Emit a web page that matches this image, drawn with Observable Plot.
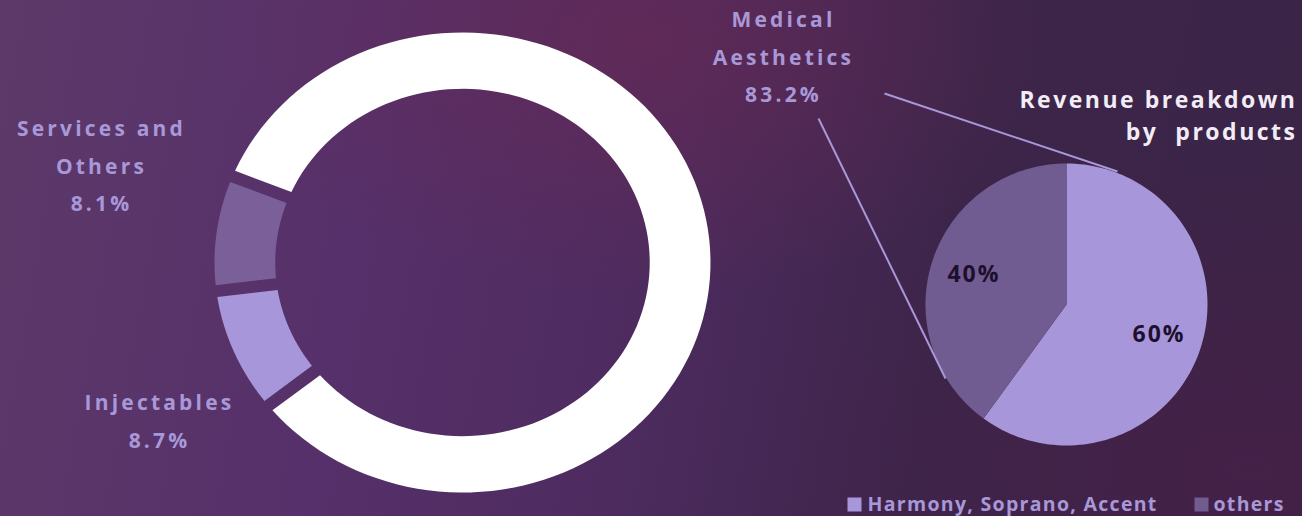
<!DOCTYPE html>
<html>
<head>
<meta charset="utf-8">
<script src="https://cdn.jsdelivr.net/npm/d3@7"></script>
<script src="https://cdn.jsdelivr.net/npm/@observablehq/plot@0.6"></script>
<style>
  html, body { margin: 0; padding: 0; }
  body {
    width: 1302px; height: 516px; overflow: hidden;
    background:
      radial-gradient(ellipse 420px 260px at 640px 40px, rgba(112, 40, 78, 0.5), rgba(112, 40, 78, 0) 100%),
      radial-gradient(ellipse 500px 300px at 1250px 470px, rgba(80, 28, 72, 0.45), rgba(80, 28, 72, 0) 100%),
      linear-gradient(100deg, #5d3969 0%, #56306a 28%, #4d2b5f 50%, #3c2549 72%, #3a2446 100%);
  }
  #chart svg { display: block; }
</style>
</head>
<body>
<div id="chart"></div>
<script>
// ---- data ----
const segments = ["Medical Aesthetics", "Injectables", "Services and Others"];
const shares = [83.2, 8.7, 8.1];
const segmentColors = ["#ffffff", "#a796d9", "#7a5f99"];
const segmentLabelLines = [["Medical", "Aesthetics", "83.2%"], ["Injectables", "8.7%"], ["Services and", "Others", "8.1%"]];
const products = ["Harmony, Soprano, Accent", "others"];
const productShares = [60, 40];
const productColors = ["#a797da", "#705c90"];
const titleLines = ["Revenue breakdown", "by  products"];

// ---- layout ----
const W = 1302, H = 516;
const donut = {cx: 462, cy: 262, rx: 248, ry: 230, inner: 0.755, start: -68 * Math.PI / 180, gap: 0.026};
const pieG = {cx: 1066, cy: 304, r: 141, labelR: 0.69};
const labelAnchors = [[783, 20], [159, 403], [101, 129]];
const lineStep = 37.5;
const lavender = "#a898d8";

// donut segment polygons
const donutPie = d3.pie().sort(null).startAngle(donut.start).endAngle(donut.start + 2 * Math.PI)(shares);
const donutRows = [];
donutPie.forEach((a, i) => {
  const pts = [];
  const n = 120;
  const ring = (r, rev) => {
    const off = Math.asin(donut.gap / r);
    const a0 = a.startAngle + off, a1 = a.endAngle - off;
    const arr = d3.range(n + 1).map(k => a0 + (a1 - a0) * k / n);
    if (rev) arr.reverse();
    arr.forEach(t => pts.push({x: donut.cx + r * donut.rx * Math.sin(t), y: donut.cy - r * donut.ry * Math.cos(t)}));
  };
  ring(1, false);
  ring(donut.inner, true);
  pts.forEach(p => donutRows.push({seg: segments[i], ...p}));
});

// pie slice polygons
const productPie = d3.pie().sort(null)(productShares);
const pieRows = [];
const pieLabelRows = [];
productPie.forEach((a, i) => {
  const n = 120;
  pieRows.push({seg: products[i], x: pieG.cx, y: pieG.cy});
  d3.range(n + 1).forEach(k => {
    const t = a.startAngle + (a.endAngle - a.startAngle) * k / n;
    pieRows.push({seg: products[i], x: pieG.cx + pieG.r * Math.sin(t), y: pieG.cy - pieG.r * Math.cos(t)});
  });
  const m = (a.startAngle + a.endAngle) / 2;
  pieLabelRows.push({text: productShares[i] + "%", x: pieG.cx + pieG.labelR * pieG.r * Math.sin(m), y: pieG.cy - pieG.labelR * pieG.r * Math.cos(m)});
});

// donut label rows
const labelRows = [];
segmentLabelLines.forEach((lines, i) => {
  lines.forEach((t, j) => labelRows.push({text: t, x: labelAnchors[i][0], y: labelAnchors[i][1] + j * lineStep}));
});

const titleRows = titleLines.map((t, j) => ({text: t, x: 1297, y: 100 + j * 32}));
const legendRows = [
  {text: products[0], sx: 854, x: 867, y: 504, color: productColors[0]},
  {text: products[1], sx: 1201, x: 1213, y: 504, color: productColors[1]}
];
const leaderRows = [
  {x1: 884, y1: 93, x2: 1117, y2: 171},
  {x1: 818, y1: 118, x2: 945, y2: 378}
];

const marks = [];
segments.forEach((s, i) => {
  marks.push(Plot.line(donutRows.filter(d => d.seg === s), {x: "x", y: "y", fill: segmentColors[i], stroke: "none", curve: "linear"}));
});
products.forEach((s, i) => {
  marks.push(Plot.line(pieRows.filter(d => d.seg === s), {x: "x", y: "y", fill: productColors[i], stroke: "none", curve: "linear"}));
});
marks.push(
  Plot.link(leaderRows, {x1: "x1", y1: "y1", x2: "x2", y2: "y2", stroke: lavender, strokeWidth: 2}),
  Plot.text(labelRows, {x: "x", y: "y", text: "text", fill: lavender, fontSize: 21, fontWeight: 700}),
  Plot.text(pieLabelRows, {x: "x", y: "y", text: "text", fill: "#1e0f2e", fontSize: 23, fontWeight: 700}),
  Plot.text(titleRows, {x: "x", y: "y", text: "text", fill: "#f2ecf6", fontSize: 23, fontWeight: 700, textAnchor: "end"}),
  Plot.dot(legendRows, {x: "sx", y: "y", symbol: "square", r: 7.9, fill: "color", stroke: "none"}),
  Plot.text(legendRows, {x: "x", y: "y", text: "text", fill: lavender, fontSize: 19.5, fontWeight: 700, textAnchor: "start"})
);

const chart = Plot.plot({
  width: W, height: H, margin: 0,
  x: {domain: [0, W], range: [0, W], axis: null},
  y: {domain: [0, H], range: [0, H], axis: null},
  color: {type: "identity"},
  style: {background: "transparent", fontFamily: "'Open Sans', sans-serif", overflow: "visible"},
  marks
});
// per-text-mark letter spacing (labels, pie labels, title, legend)
const spacings = ["3.2px", "2px", "2.5px", "1.3px"];
d3.select(chart).selectAll(":scope > g[aria-label='text']").each(function(_, i) {
  this.setAttribute("letter-spacing", spacings[i] || "0px");
});
document.getElementById("chart").appendChild(chart);
</script>
</body>
</html>
